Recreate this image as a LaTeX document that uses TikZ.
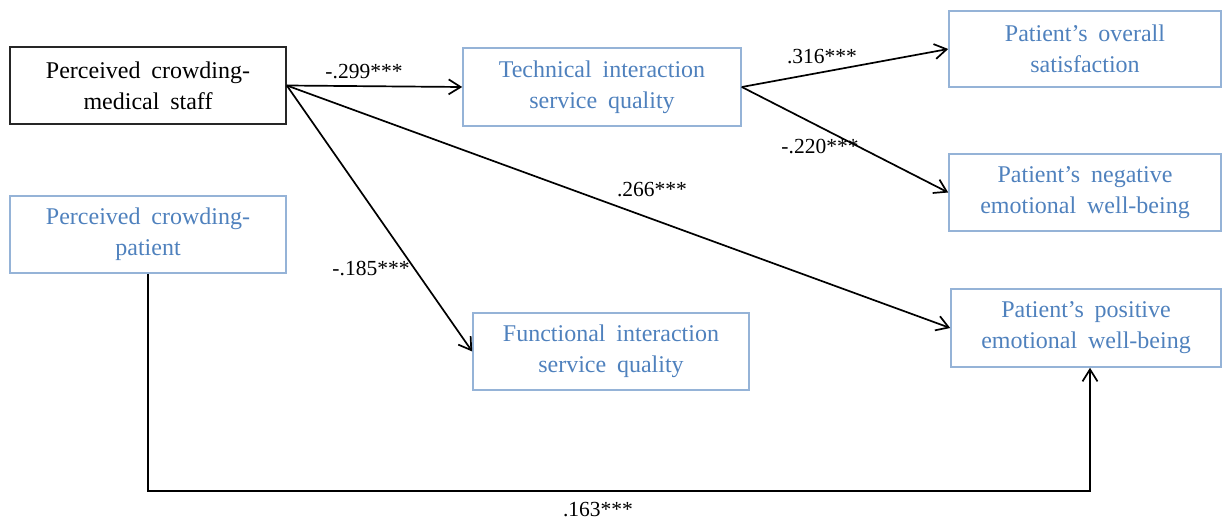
\documentclass[tikz,border=0pt]{standalone}
\usepackage{fontspec}
\setmainfont{Liberation Serif}[WordSpace = 1.8]
\usetikzlibrary{arrows.meta}
\definecolor{txtblue}{HTML}{4F81BD}
\definecolor{lineblue}{HTML}{95B3D7}
\begin{document}
\begin{tikzpicture}[x = 1pt, y = -1pt, >= {Straight Barb[length=12pt, width=15pt]},
    box/.style = {draw = lineblue, line width = 1.6pt, text = txtblue, minimum width = 276pt,
      minimum height = 77pt, align = center, inner sep = 0pt, font = \fontsize{24}{31}\selectfont},
    coef/.style = {inner sep = 0pt, font = \fontsize{21.5}{24}\selectfont},
    path/.style = {->, line width = 1.7pt}]
        \useasboundingbox (0, 0) rectangle (1222, 527);
        \node[box, draw = black!85, text = black] (staff) at (148, 85.5) {Perceived crowding-\\medical staff};
        \node[box] (patient) at (148, 234.5) {Perceived crowding-\\patient};
        \node[box, minimum width = 278pt, minimum height = 78pt] (tech) at (602, 87) {Technical interaction\\service quality};
        \node[box] (func) at (611, 351.5) {Functional interaction\\service quality};
        \node[box, minimum width = 272pt, minimum height = 76pt] (sat) at (1085, 49) {Patient's overall\\satisfaction};
        \node[box, minimum width = 272pt] (neg) at (1085, 192.5) {Patient's negative\\emotional well-being};
        \node[box, minimum width = 270pt, minimum height = 78pt] (pos) at (1086, 328) {Patient's positive\\emotional well-being};
        \coordinate (bend) at (1090, 491);
        \draw[path] (staff.east) -- (tech.west);
        \draw[path] (staff.east) -- (func.west);
        \draw[path] (staff.east) -- (pos.west);
        \draw[path] (tech.east) -- (sat.west);
        \draw[path] (tech.east) -- (neg.west);
        \draw[path] (patient.south) |- (bend) -- (bend |- pos.south);
        \node[coef] (c1) at (364, 72) {-.299***};
        \node[coef] (c2) at (371, 268) {-.185***};
        \node[coef] (c3) at (652, 190) {.266***};
        \node[coef] (c4) at (822, 57) {.316***};
        \node[coef] (c5) at (820, 147) {-.220***};
        \node[coef] (c6) at (598, 510) {.163***};
\end{tikzpicture}
\end{document}
